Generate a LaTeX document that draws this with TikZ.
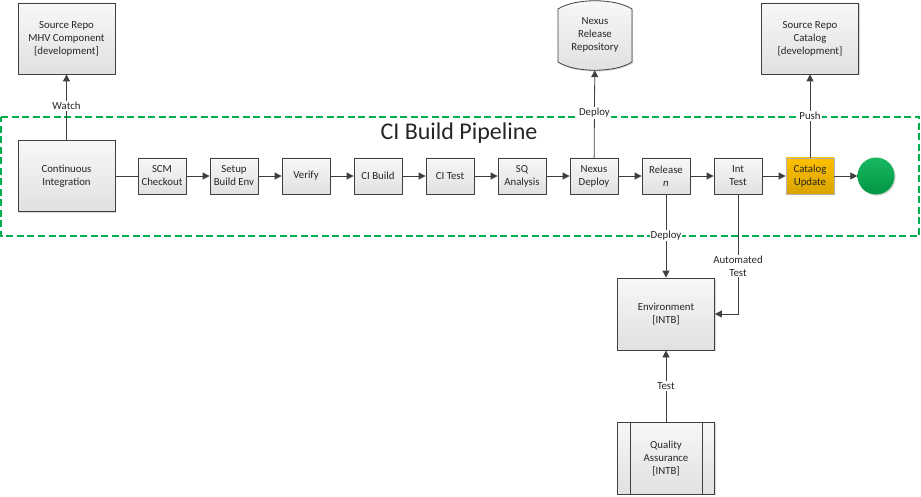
\documentclass[tikz,border=0pt]{standalone}
\usepackage{fontspec}
\setmainfont{Carlito}
\usetikzlibrary{arrows.meta,shadows}

\definecolor{lineGray}{HTML}{404040}
\definecolor{pipeGreen}{HTML}{00B050}
\definecolor{catOrange}{HTML}{FFC000}

\tikzset{
  box/.style={draw=lineGray, line width=0.8pt, top color=black!3, bottom color=black!12,
    align=center, inner sep=1pt, text=black!85, font=\fontsize{10.8}{13}\selectfont,
    drop shadow={shadow xshift=1.2pt, shadow yshift=-1.2pt, fill=black!30, opacity=0.5}},
  bigbox/.style={box, minimum width=97pt, minimum height=71pt},
  stagebox/.style={box, minimum width=48pt, minimum height=36pt},
  link/.style={draw=lineGray, line width=0.8pt, -{Triangle[length=7pt,width=7pt]}},
  plainlink/.style={draw=lineGray, line width=0.8pt},
  lbl/.style={fill=white, inner sep=1pt, align=center, text=black!85,
    font=\fontsize{10.8}{13}\selectfont},
}

\begin{document}
\begin{tikzpicture}[x=1pt, y=-1pt]
\useasboundingbox (0,0) rectangle (921,497);

%Pipeline frame
\draw[draw=pipeGreen, line width=1.4pt, dash pattern=on 7pt off 3.5pt]
  (1,117) -- (919,117) -- (919,236) -- (1,236) -- cycle;
\node[text=black!85, font=\fontsize{24}{28}\selectfont] (title) at (459,133) {CI Build Pipeline};

%Repositories
\node[bigbox] (srcrepo) at (66.5,38.5) {Source Repo\\MHV Component\\{[development]}};
\node[bigbox] (catrepo) at (810,38.5) {Source Repo\\Catalog\\{[development]}};
\draw[draw=lineGray, line width=0.8pt, top color=black!3, bottom color=black!12,
  drop shadow={shadow xshift=1.2pt, shadow yshift=-1.2pt, fill=black!30, opacity=0.5}]
  (558,9) .. controls (575,-2) and (615,-2) .. (632,9) -- (632,62)
  .. controls (615,73) and (575,73) .. (558,62) -- cycle;
\node[minimum width=74pt, minimum height=70pt, align=center, text=black!85,
  font=\fontsize{10.8}{13}\selectfont] (nexus) at (595,35) {Nexus\\Release\\Repository};

%Pipeline stages
\node[bigbox] (ci) at (66.5,176) {Continuous\\Integration};
\node[stagebox] (scm) at (162,176) {SCM\\Checkout};
\node[stagebox] (setup) at (234,176) {Setup\\Build Env};
\node[stagebox] (verify) at (306,176) {Verify};
\node[stagebox] (cibuild) at (378,176) {CI Build};
\node[stagebox] (citest) at (450,176) {CI Test};
\node[stagebox] (sq) at (522,176) {SQ\\Analysis};
\node[stagebox] (nexdeploy) at (594,176) {Nexus\\Deploy};
\node[stagebox] (release) at (666,176) {Release\\\textit{n}};
\node[stagebox] (inttest) at (738,176) {Int\\Test};
\node[stagebox, draw=black!30, top color=catOrange, bottom color=catOrange!85!black] (catupd) at (810,176) {Catalog\\Update};
\node[circle, minimum size=37pt, draw=none, top color=pipeGreen!90!white, bottom color=pipeGreen!85!black,
  drop shadow={shadow xshift=1.2pt, shadow yshift=-1.2pt, fill=black!30, opacity=0.5}] (done) at (876,176) {};

%Environment and QA
\node[bigbox, minimum height=72pt] (env) at (666,314) {Environment\\{[INTB]}};
\node[bigbox, minimum height=72pt] (qa) at (666,458) {Quality\\Assurance\\{[INTB]}};
\draw[plainlink] ([xshift=13pt]qa.north west) -- ([xshift=13pt]qa.south west);
\draw[plainlink] ([xshift=-13pt]qa.north east) -- ([xshift=-13pt]qa.south east);

%Connectors
\draw[link] (ci) -- (srcrepo) node[lbl, pos=0.52]{Watch};
\draw[plainlink] (ci) -- (scm);
\draw[link] (scm) -- (setup);
\draw[link] (setup) -- (verify);
\draw[link] (verify) -- (cibuild);
\draw[link] (cibuild) -- (citest);
\draw[link] (citest) -- (sq);
\draw[link] (sq) -- (nexdeploy);
\draw[link] (nexdeploy) -- (release);
\draw[link] (release) -- (inttest);
\draw[link] (inttest) -- (catupd);
\draw[link] (catupd) -- (done);
\draw[link] (nexdeploy) -- (nexus) node[lbl, pos=0.51]{Deploy};
\draw[link] (catupd) -- (catrepo) node[lbl, pos=0.5]{Push};
\draw[link] (release) -- (env) node[lbl, pos=0.49]{Deploy};
\draw[link] (inttest) |- (env) node[lbl, pos=0.3]{Automated\\Test};
\draw[link] (qa) -- (env) node[lbl, pos=0.5]{Test};

\end{tikzpicture}
\end{document}
